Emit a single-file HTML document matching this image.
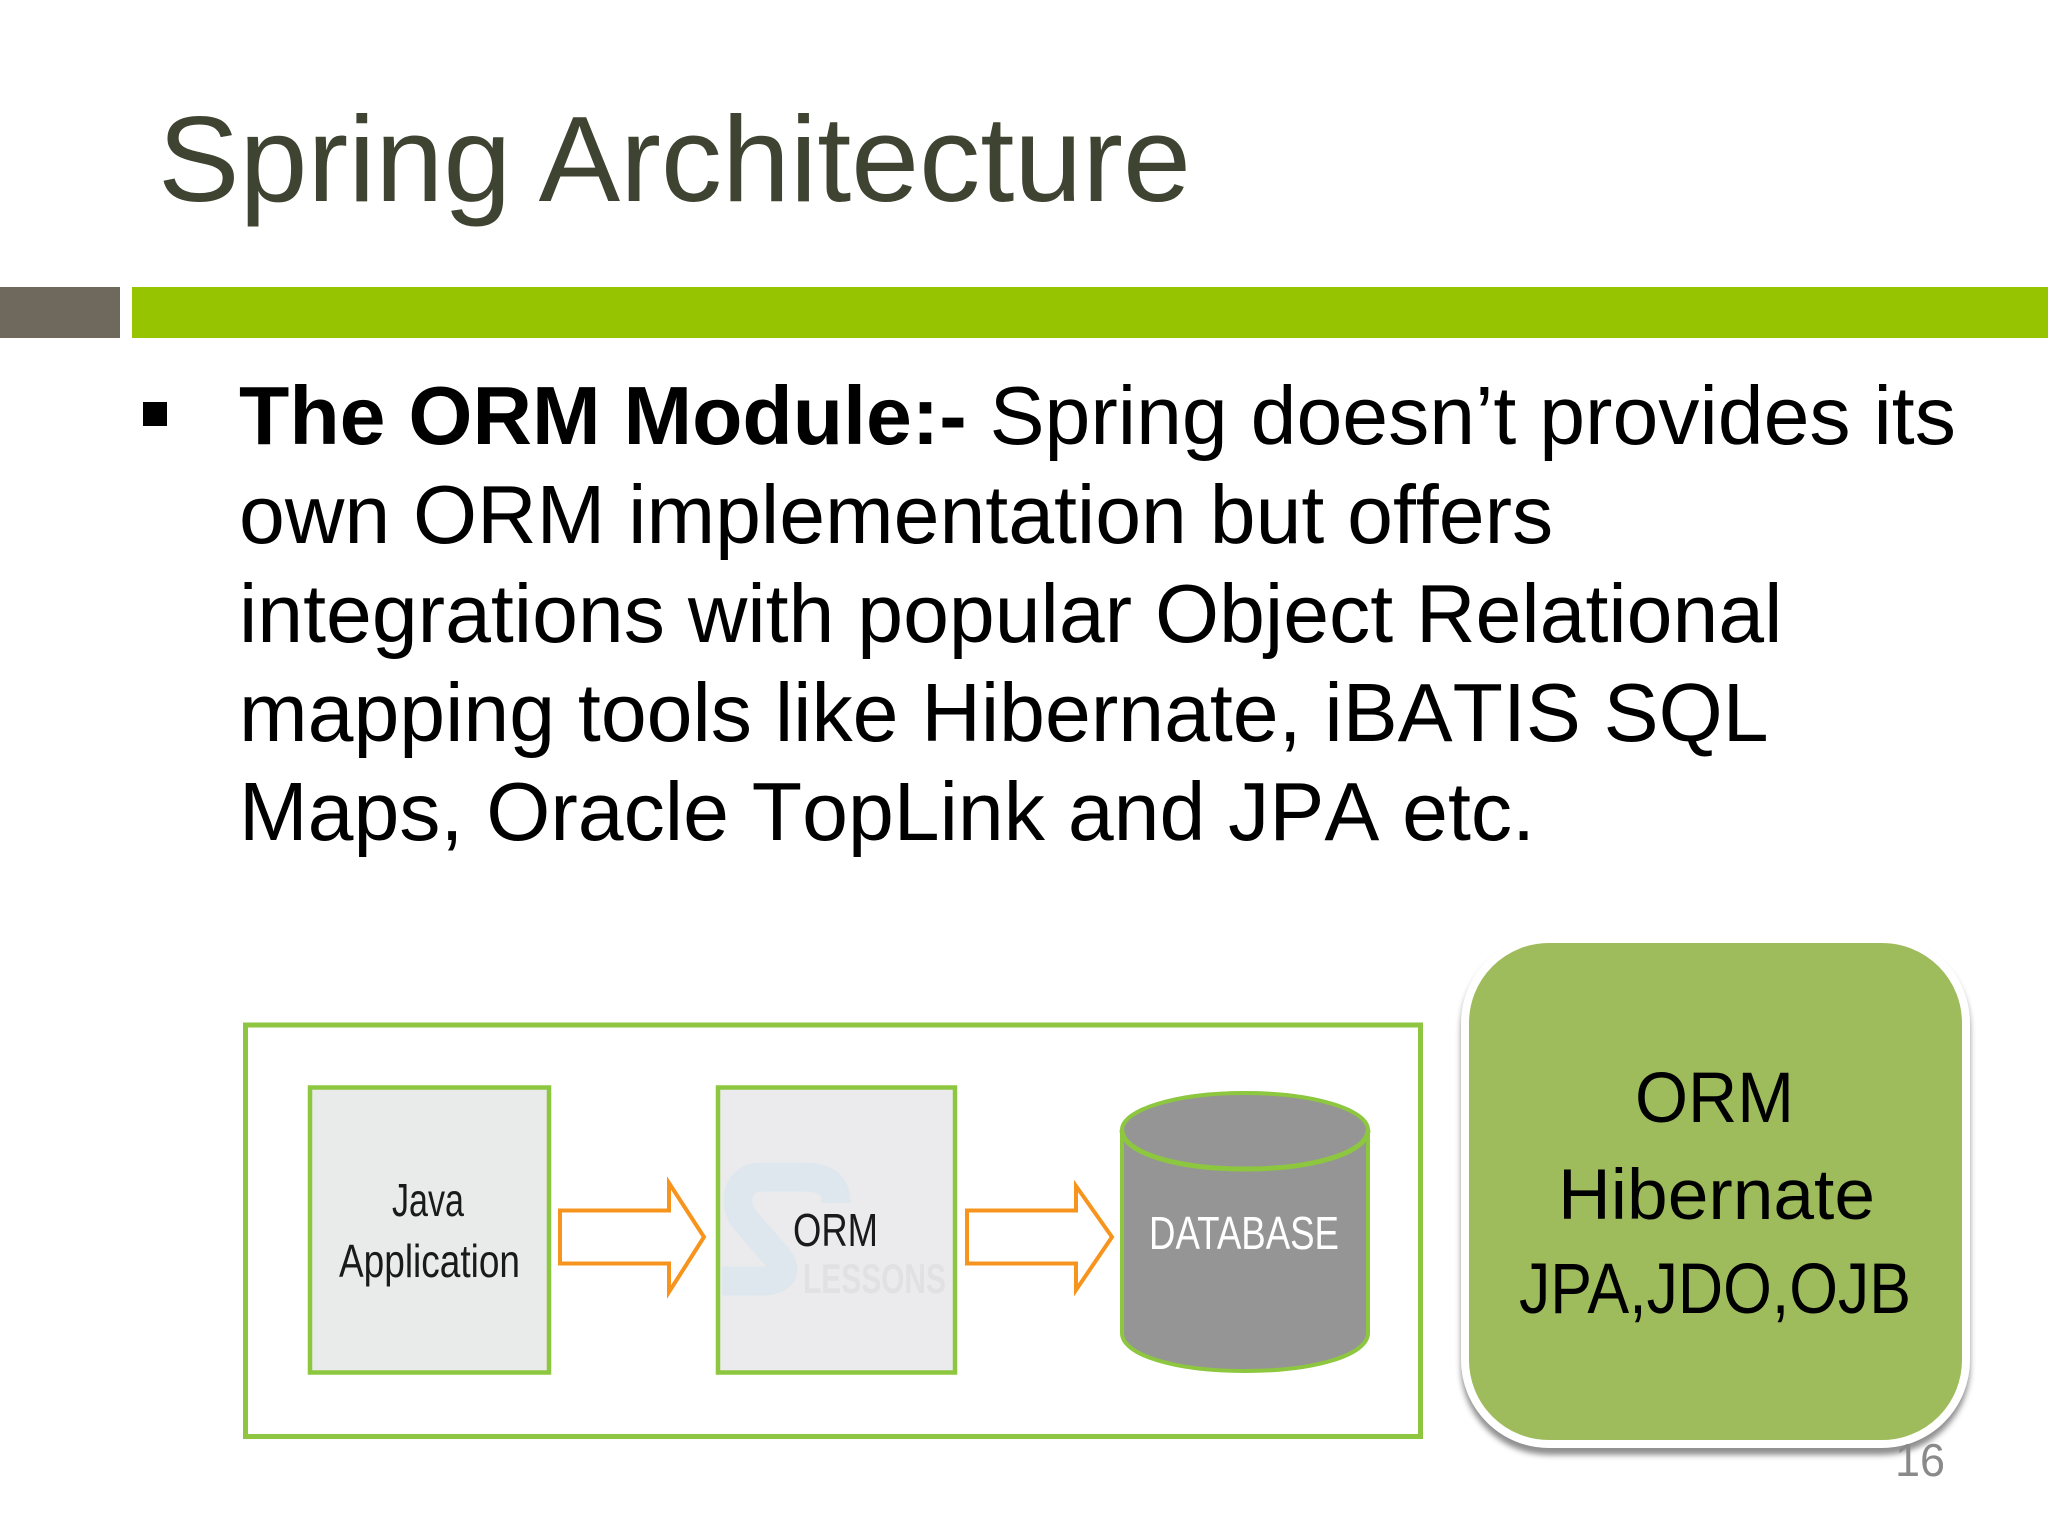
<!DOCTYPE html>
<html><head><meta charset="utf-8"><style>
html,body{margin:0;padding:0;background:#fff;width:2048px;height:1536px;overflow:hidden}
svg{display:block}
text{font-family:"Liberation Sans",sans-serif}
.body text{font-kerning:none}
</style></head><body>
<svg width="2048" height="1536" viewBox="0 0 2048 1536" xmlns="http://www.w3.org/2000/svg">
<defs><filter id="sh" x="-10%" y="-10%" width="120%" height="120%"><feGaussianBlur stdDeviation="3"/></filter></defs>
<rect width="2048" height="1536" fill="#fff"/>
<text x="158" y="201" font-size="122" fill="#3f4331" textLength="1033" lengthAdjust="spacingAndGlyphs">Spring Architecture</text>
<rect x="0" y="287" width="120" height="51" fill="#6f685c"/>
<rect x="132" y="287" width="1916" height="51" fill="#97c400"/>
<rect x="143" y="402" width="24" height="24" fill="#000"/>
<g class="body" font-size="82.4" fill="#000">
<text x="239" y="444"><tspan font-weight="bold">The ORM Module:-</tspan> Spring doesn’t provides its</text>
<text x="239" y="543">own ORM implementation but offers</text>
<text x="239" y="642">integrations with popular Object Relational</text>
<text x="239" y="741">mapping tools like Hibernate, iBATIS SQL</text>
<text x="239" y="840">Maps, Oracle TopLink and JPA etc.</text>
</g>
<!-- diagram -->
<rect x="245.5" y="1025" width="1175" height="411.5" fill="#fff" stroke="#8fc641" stroke-width="5"/>
<rect x="310" y="1087.5" width="239" height="285" fill="#e9ebeb" stroke="#8dc63f" stroke-width="4.5"/>
<rect x="718" y="1087.5" width="237" height="285" fill="#ebebee" stroke="#8dc63f" stroke-width="4.5"/>
<path d="M836 1203C836 1180 820 1177 800 1177H762C735 1177 733 1205 745 1220L778 1258C790 1275 778 1281 760 1281H722" fill="none" stroke="#dee7ed" stroke-width="29"/>
<text x="803" y="1293" font-size="42" font-weight="bold" fill="#e1e1e4" textLength="143" lengthAdjust="spacingAndGlyphs">LESSONS</text>
<g fill="#fff" stroke="#f7941e" stroke-width="4">
<path d="M560 1210.5H669V1183L704 1237L669 1292V1263.5H560Z"/>
<path d="M967 1210.5H1076V1186L1112 1237L1076 1290V1263.5H967Z"/>
</g>
<path d="M1122 1130C1122 1110 1175 1093 1245 1093C1315 1093 1368 1110 1368 1130V1333C1368 1355 1315 1371 1245 1371C1175 1371 1122 1355 1122 1333Z" fill="#959595" stroke="#8dc63f" stroke-width="4"/>
<path d="M1122 1130C1122 1152 1175 1169 1245 1169C1315 1169 1368 1152 1368 1130" fill="none" stroke="#8dc63f" stroke-width="5"/>
<g font-size="46" fill="#1a1a1a">
<text x="392" y="1216" textLength="72" lengthAdjust="spacingAndGlyphs">Java</text>
<text x="339" y="1277" textLength="181" lengthAdjust="spacingAndGlyphs">Application</text>
<text x="793" y="1246" textLength="85" lengthAdjust="spacingAndGlyphs">ORM</text>
</g>
<text x="1149" y="1249" font-size="46" fill="#fff" textLength="190" lengthAdjust="spacingAndGlyphs">DATABASE</text>
<!-- rounded box -->
<rect x="1461" y="941" width="509" height="514" rx="88" fill="#555" opacity=".65" filter="url(#sh)"/>
<rect x="1465" y="939" width="501" height="505" rx="84" fill="#9fbc5d" stroke="#fff" stroke-width="8"/>
<g font-size="71" fill="#000">
<text x="1635" y="1122" textLength="159" lengthAdjust="spacingAndGlyphs">ORM</text>
<text x="1558" y="1219" textLength="317" lengthAdjust="spacingAndGlyphs">Hibernate</text>
<text x="1519" y="1313" textLength="392" lengthAdjust="spacingAndGlyphs">JPA,JDO,OJB</text>
</g>
<text x="1895" y="1476" font-size="46" fill="#8a8a8a" textLength="50" lengthAdjust="spacingAndGlyphs">16</text>
</svg>
</body></html>
